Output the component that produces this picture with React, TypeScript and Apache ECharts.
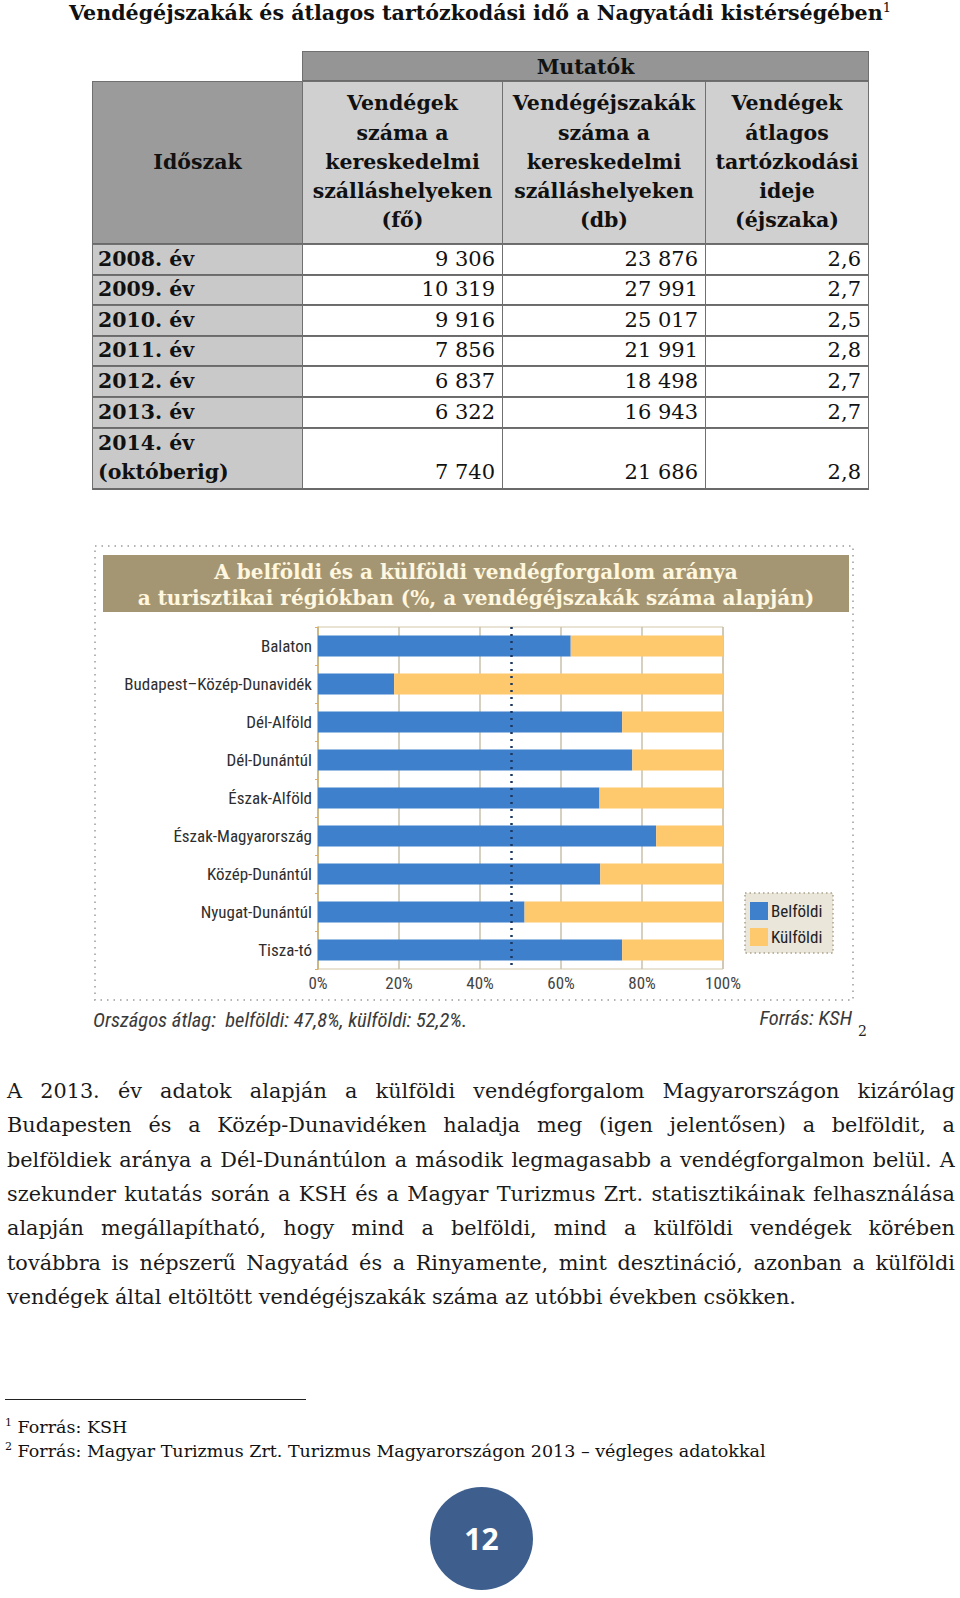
import React, { useEffect, useRef } from "react";
import * as echarts from "echarts";

// ---------- Table data ----------
const periods = ["2008. év", "2009. év", "2010. év", "2011. év", "2012. év", "2013. év", "2014. év|(októberig)"];
const guests = [9306, 10319, 9916, 7856, 6837, 6322, 7740];
const guestNights = [23876, 27991, 25017, 21991, 18498, 16943, 21686];
const avgStay = [2.6, 2.7, 2.5, 2.8, 2.7, 2.7, 2.8];
const headerTitles = [
  "Vendégek|száma a|kereskedelmi|szálláshelyeken|(fő)",
  "Vendégéjszakák|száma a|kereskedelmi|szálláshelyeken|(db)",
  "Vendégek|átlagos|tartózkodási|ideje|(éjszaka)",
];

// ---------- Chart data ----------
const regions = [
  "Balaton",
  "Budapest–Közép-Dunavidék",
  "Dél-Alföld",
  "Dél-Dunántúl",
  "Észak-Alföld",
  "Észak-Magyarország",
  "Közép-Dunántúl",
  "Nyugat-Dunántúl",
  "Tisza-tó",
];
const domestic = [62.4, 18.8, 75.1, 77.6, 69.5, 83.5, 69.7, 51.0, 75.1];
const foreign = [37.6, 81.2, 24.9, 22.4, 30.5, 16.5, 30.3, 49.0, 24.9];
const seriesNames = ["Belföldi", "Külföldi"];
const xTickMax = 100;
const xTickStep = 20;
const nationalDomestic = 47.8;
const nationalForeign = 52.2;

// ---------- Text ----------
const paragraphLines = [
  "A 2013. év adatok alapján a külföldi vendégforgalom Magyarországon kizárólag",
  "Budapesten és a Közép-Dunavidéken haladja meg (igen jelentősen) a belföldit, a",
  "belföldiek aránya a Dél-Dunántúlon a második legmagasabb a vendégforgalmon belül. A",
  "szekunder kutatás során a KSH és a Magyar Turizmus Zrt. statisztikáinak felhasználása",
  "alapján megállapítható, hogy mind a belföldi, mind a külföldi vendégek körében",
  "továbbra is népszerű Nagyatád és a Rinyamente, mint desztináció, azonban a külföldi",
  "vendégek által eltöltött vendégéjszakák száma az utóbbi években csökken.",
];

const fmtInt = (n: number) => String(n).replace(/\B(?=(\d{3})+(?!\d))/g, " ");
const fmtDec = (n: number) => n.toFixed(1).replace(".", ",");

const SERIF = "'DejaVu Serif', 'Liberation Serif', serif";
const NARROW = "'Liberation Sans Narrow', 'Arial Narrow', 'Roboto Condensed', 'Liberation Sans', sans-serif";

function RegionChart() {
  const ref = useRef<HTMLDivElement>(null);
  useEffect(() => {
    const chart = echarts.init(ref.current!, null, { renderer: "svg" });
    chart.setOption({
      animation: false,
      backgroundColor: "#ffffff",
      grid: { left: 228, top: 87, width: 405, height: 342, show: true, borderColor: "#d3c7aa", borderWidth: 1 },
      xAxis: {
        type: "value",
        min: 0,
        max: xTickMax,
        interval: xTickStep,
        axisLine: { show: false },
        axisTick: { show: false },
        splitLine: { show: true, lineStyle: { color: "#c9c1ad", width: 1.5 } },
        axisLabel: { formatter: "{value}%", fontSize: 17, color: "#444", fontFamily: NARROW, margin: 5 },
      },
      yAxis: {
        type: "category",
        data: regions,
        inverse: true,
        axisLine: { show: true, lineStyle: { color: "#c8b27a", width: 1.5 } },
        axisTick: { show: true, length: 3, lineStyle: { color: "#e0ae55" } },
        axisLabel: { fontSize: 17, color: "#2e2e2e", fontFamily: NARROW, margin: 6 },
      },
      legend: {
        data: seriesNames,
        orient: "vertical",
        left: 660,
        top: 362,
        itemWidth: 18,
        itemHeight: 18,
        itemGap: 8,
        icon: "rect",
        padding: 0,
        textStyle: { fontSize: 17, color: "#222", fontFamily: NARROW, padding: [0, 0, 0, -2] },
      },
      series: [
        {
          name: seriesNames[0],
          type: "bar",
          stack: "total",
          data: domestic,
          barWidth: 21,
          itemStyle: { color: "#3f80cc" },
        },
        {
          name: seriesNames[1],
          type: "bar",
          stack: "total",
          data: foreign,
          barWidth: 21,
          itemStyle: { color: "#fec86d" },
          markLine: {
            silent: true,
            symbol: "none",
            label: { show: false },
            lineStyle: { type: [2, 5], color: "#1c3760", width: 2.5 },
            data: [{ xAxis: nationalDomestic }],
          },
        },
      ],
      graphic: [
        {
          type: "rect",
          z: 0,
          shape: { x: 5, y: 6, width: 758, height: 454 },
          style: { fill: "none", stroke: "#b4b4b4", lineWidth: 2, lineDash: [1.5, 5] },
        },
        {
          type: "rect",
          z: 1,
          shape: { x: 13, y: 15, width: 746, height: 57 },
          style: { fill: "#a59673" },
        },
        {
          type: "text",
          z: 2,
          x: 386,
          y: 32,
          style: {
            text: "A belföldi és a külföldi vendégforgalom aránya",
            fill: "#fff7df",
            fontSize: 20,
            fontWeight: "bold",
            fontFamily: SERIF,
            textAlign: "center",
            align: "center",
            textVerticalAlign: "middle",
            verticalAlign: "middle",
          },
        },
        {
          type: "text",
          z: 2,
          x: 386,
          y: 58,
          style: {
            text: "a turisztikai régiókban (%, a vendégéjszakák száma alapján)",
            fill: "#fff7df",
            fontSize: 20,
            fontWeight: "bold",
            fontFamily: SERIF,
            textAlign: "center",
            align: "center",
            textVerticalAlign: "middle",
            verticalAlign: "middle",
          },
        },
        {
          type: "rect",
          z: 0,
          shape: { x: 655, y: 353, width: 88, height: 60 },
          style: { fill: "#ebe6da", stroke: "#aaa08a", lineWidth: 1.5, lineDash: [1.5, 3] },
        },
        {
          type: "text",
          z: 2,
          x: 3,
          y: 480,
          style: {
            text: `Országos átlag:  belföldi: ${fmtDec(nationalDomestic)}%, külföldi: ${fmtDec(nationalForeign)}%.`,
            fill: "#3a3a3a",
            fontSize: 20.5,
            fontStyle: "italic",
            fontFamily: NARROW,
            textVerticalAlign: "middle",
            verticalAlign: "middle",
          },
        },
        {
          type: "text",
          z: 2,
          x: 762,
          y: 478,
          style: {
            text: "Forrás: KSH",
            fill: "#3a3a3a",
            fontSize: 20.5,
            fontStyle: "italic",
            fontFamily: NARROW,
            textAlign: "right",
            align: "right",
            textVerticalAlign: "middle",
            verticalAlign: "middle",
          },
        },
        {
          type: "text",
          z: 2,
          x: 768,
          y: 491,
          style: {
            text: "2",
            fill: "#222",
            fontSize: 14,
            fontFamily: SERIF,
            textVerticalAlign: "middle",
            verticalAlign: "middle",
          },
        },
      ],
    });
    return () => chart.dispose();
  }, []);
  return <div ref={ref} style={{ position: "absolute", left: 90, top: 540, width: 780, height: 500 }} />;
}

const colX = [92, 302, 502, 705, 868];
const rowY = [244, 274.6, 305.2, 335.8, 366.4, 397, 427.6, 489];

function Cell(props: {
  x1: number; x2: number; y1: number; y2: number; bg: string;
  children?: React.ReactNode; align?: string; justify?: string; bold?: boolean; pr?: number; pl?: number; lh?: number; fs?: number;
}) {
  const { x1, x2, y1, y2, bg, children, align = "center", justify = "center", bold = false, pr = 0, pl = 0, lh = 29.3, fs = 20.5 } = props;
  return (
    <div
      style={{
        position: "absolute",
        left: x1,
        top: y1,
        width: x2 - x1 + 1,
        height: y2 - y1 + 1,
        boxSizing: "border-box",
        border: "1px solid #707070",
        borderBottom: "2px solid #6a6a6a",
        background: bg,
        display: "flex",
        flexDirection: "column",
        justifyContent: justify,
        alignItems: align,
        textAlign: align === "flex-end" ? "right" : align === "flex-start" ? "left" : "center",
        paddingRight: pr,
        paddingLeft: pl,
        fontFamily: SERIF,
        fontWeight: bold ? 700 : 400,
        fontSize: fs,
        lineHeight: lh + "px",
        color: "#111",
        whiteSpace: "nowrap",
      }}
    >
      {children}
    </div>
  );
}

function DataTable() {
  const cells: React.ReactNode[] = [];
  cells.push(
    <Cell key="mut" x1={colX[1]} x2={colX[4]} y1={51} y2={81} bg="#959595" bold>
      <div style={{ paddingTop: 3 }}>Mutatók</div>
    </Cell>
  );
  cells.push(
    <Cell key="ido" x1={colX[0]} x2={colX[1]} y1={81} y2={rowY[0]} bg="#9b9b9b" bold>
      Időszak
    </Cell>
  );
  headerTitles.forEach((h, i) => {
    cells.push(
      <Cell key={"h" + i} x1={colX[i + 1]} x2={colX[i + 2]} y1={81} y2={rowY[0]} bg="#d0d0d0" bold>
        {h.split("|").map((l, j) => (
          <div key={j}>{l}</div>
        ))}
      </Cell>
    );
  });
  periods.forEach((p, r) => {
    const last = r === periods.length - 1;
    const y1 = rowY[r];
    const y2 = rowY[r + 1];
    cells.push(
      <Cell key={"p" + r} x1={colX[0]} x2={colX[1]} y1={y1} y2={y2} bg="#c9c9c9" bold align="flex-start" justify="center" pl={5}>
        {p.split("|").map((l, j) => (
          <div key={j}>{l}</div>
        ))}
      </Cell>
    );
    const vals = [fmtInt(guests[r]), fmtInt(guestNights[r]), fmtDec(avgStay[r])];
    vals.forEach((v, c) => {
      cells.push(
        <Cell key={"v" + r + c} x1={colX[c + 1]} x2={colX[c + 2]} y1={y1} y2={y2} bg="#ffffff" align="flex-end" justify={last ? "flex-end" : "center"} pr={7} fs={21}>
          <div style={{ paddingBottom: last ? 1 : 0 }}>{v}</div>
        </Cell>
      );
    });
  });
  return <>{cells}</>;
}

function JustifiedLine({ text, top, last }: { text: string; top: number; last: boolean }) {
  const words = text.split(" ");
  return (
    <div
      style={{
        position: "absolute",
        left: 7,
        top,
        width: 948,
        height: 34,
        lineHeight: "34px",
        fontFamily: SERIF,
        fontSize: 20.8,
        color: "#1a1a1a",
        display: "flex",
        justifyContent: last ? "flex-start" : "space-between",
        whiteSpace: "pre",
      }}
    >
      {last ? <span>{text}</span> : words.map((w, i) => <span key={i} style={{ flexShrink: 0 }}>{w}</span>)}
    </div>
  );
}

export default function App() {
  return (
    <div style={{ position: "absolute", left: 0, top: 0, width: 960, height: 1598, background: "#fff", overflow: "hidden" }}>
      <div
        style={{
          position: "absolute",
          left: 0,
          top: -4,
          width: 960,
          textAlign: "center",
          fontFamily: SERIF,
          fontWeight: 700,
          fontSize: 20.6,
          lineHeight: "24px",
          color: "#111",
          whiteSpace: "nowrap",
        }}
      >
        Vendégéjszakák és átlagos tartózkodási idő a Nagyatádi kistérségében
        <sup style={{ fontSize: 13, fontWeight: 400 }}>1</sup>
      </div>
      <DataTable />
      <RegionChart />
      {paragraphLines.map((l, i) => (
        <JustifiedLine key={i} text={l} top={1074 + i * 34.3} last={i === paragraphLines.length - 1} />
      ))}
      <div style={{ position: "absolute", left: 5, top: 1399, width: 301, height: 1, background: "#222" }} />
      <div style={{ position: "absolute", left: 5, top: 1411, fontFamily: SERIF, fontSize: 17.5, lineHeight: "24px", color: "#111", whiteSpace: "nowrap" }}>
        <sup style={{ fontSize: 11 }}>1</sup> Forrás: KSH
      </div>
      <div style={{ position: "absolute", left: 5, top: 1435, fontFamily: SERIF, fontSize: 17.5, lineHeight: "24px", color: "#111", whiteSpace: "nowrap" }}>
        <sup style={{ fontSize: 11 }}>2</sup> Forrás: Magyar Turizmus Zrt. Turizmus Magyarországon 2013 – végleges adatokkal
      </div>
      <div
        style={{
          position: "absolute",
          left: 430,
          top: 1487,
          width: 103,
          height: 103,
          borderRadius: "50%",
          background: "#3e5f8d",
          color: "#fff",
          display: "flex",
          alignItems: "center",
          justifyContent: "center",
          fontFamily: "'Open Sans', 'Liberation Sans', sans-serif",
          fontWeight: 700,
          fontSize: 30,
        }}
      >
        12
      </div>
    </div>
  );
}
